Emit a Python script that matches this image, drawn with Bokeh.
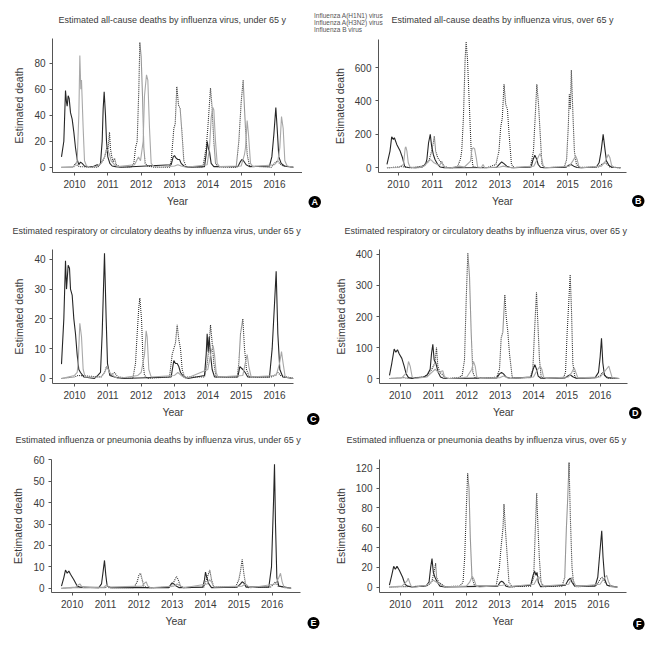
from bokeh.plotting import figure
from bokeh.models import Range1d, FixedTicker, Legend, LegendItem, Title, Label
from bokeh.layouts import row, column
from bokeh.embed import file_html
from bokeh.resources import INLINE

# ---------------- data (year, estimated deaths) ----------------
TICK_YEARS = [2010, 2011, 2012, 2013, 2014, 2015, 2016]
SERIES_NAMES = ["Influenza A(H1N1) virus", "Influenza A(H3N2) virus", "Influenza B virus"]

A_H1N1 = [(2009.61, 8), (2009.68, 20), (2009.73, 59), (2009.76, 50), (2009.78, 47), (2009.81, 55), (2009.84, 53),
          (2009.88, 42), (2009.93, 37), (2009.98, 27), (2010.03, 15), (2010.08, 6), (2010.13, 2), (2010.18, 4),
          (2010.23, 3), (2010.30, 1), (2010.38, 0.5), (2010.55, 0.5), (2010.68, 2), (2010.72, 1), (2010.78, 3),
          (2010.83, 20), (2010.86, 45), (2010.89, 58), (2010.93, 40), (2010.96, 20), (2011.0, 8), (2011.06, 3),
          (2011.13, 1), (2011.23, 0.5), (2011.4, 0), (2012.9, 2), (2012.96, 8), (2013.0, 9), (2013.05, 7),
          (2013.1, 6), (2013.15, 6), (2013.2, 3), (2013.28, 1), (2013.4, 0), (2013.9, 0.5), (2013.95, 10),
          (2013.98, 20), (2014.02, 14), (2014.05, 12), (2014.1, 3), (2014.18, 0.5), (2014.9, 0.5), (2014.97, 4),
          (2015.02, 6), (2015.07, 5), (2015.15, 2), (2015.25, 0.5), (2015.85, 1), (2015.92, 8), (2015.98, 25),
          (2016.04, 46), (2016.08, 30), (2016.13, 8), (2016.2, 3), (2016.3, 1), (2016.57, 0)]
A_H3N2 = [(2009.61, 0), (2009.95, 0), (2010.0, 2), (2010.03, 3), (2010.08, 1.5), (2010.15, 0.5), (2010.7, 0),
          (2010.75, 2), (2010.85, 5), (2010.92, 9), (2010.97, 15), (2011.0, 12), (2011.05, 27), (2011.08, 14),
          (2011.12, 8), (2011.16, 4), (2011.2, 7), (2011.25, 2), (2011.35, 0.5), (2011.7, 0), (2011.78, 3),
          (2011.83, 15), (2011.88, 20), (2011.93, 60), (2011.96, 96), (2012.0, 85), (2012.04, 55), (2012.08, 15),
          (2012.12, 3), (2012.2, 1), (2012.4, 0), (2012.85, 0), (2012.9, 5), (2012.95, 20), (2012.98, 30),
          (2013.02, 33), (2013.07, 62), (2013.12, 48), (2013.17, 45), (2013.22, 28), (2013.28, 5), (2013.35, 0.5),
          (2013.85, 0), (2013.95, 15), (2014.0, 30), (2014.08, 61), (2014.13, 45), (2014.18, 20), (2014.23, 3),
          (2014.3, 0.5), (2014.85, 0), (2014.93, 20), (2015.0, 50), (2015.06, 67), (2015.1, 45), (2015.13, 30),
          (2015.18, 10), (2015.25, 1), (2015.9, 0), (2016.0, 3), (2016.08, 5), (2016.15, 3), (2016.25, 1),
          (2016.57, 0)]
A_B = [(2009.61, 0), (2010.0, 0.5), (2010.08, 5), (2010.13, 40), (2010.16, 86), (2010.19, 60), (2010.21, 67),
       (2010.26, 30), (2010.3, 5), (2010.36, 1), (2010.5, 0), (2010.7, 1), (2010.8, 3), (2010.9, 8), (2010.96, 14),
       (2011.0, 13), (2011.05, 10), (2011.1, 5), (2011.2, 2), (2011.3, 0.5), (2011.8, 2), (2011.88, 6),
       (2011.92, 8), (2011.98, 5), (2012.06, 20), (2012.1, 55), (2012.16, 71), (2012.2, 67), (2012.25, 30),
       (2012.3, 3), (2012.38, 0.5), (2012.6, 0), (2013.0, 1), (2013.1, 2), (2013.2, 1), (2013.35, 0),
       (2013.98, 2), (2014.05, 15), (2014.1, 38), (2014.15, 46), (2014.18, 44), (2014.23, 20), (2014.28, 3),
       (2014.35, 0.5), (2015.0, 1), (2015.1, 10), (2015.13, 15), (2015.18, 36), (2015.22, 25), (2015.28, 3),
       (2015.35, 0.5), (2016.0, 2), (2016.1, 5), (2016.16, 15), (2016.21, 39), (2016.26, 30), (2016.31, 5),
       (2016.38, 1), (2016.57, 0)]

B_H1N1 = [(2009.66, 20), (2009.75, 100), (2009.80, 185), (2009.85, 170), (2009.88, 180), (2009.95, 140),
          (2010.05, 100), (2010.12, 60), (2010.18, 10), (2010.22, 5), (2010.3, 2), (2010.5, 0), (2010.7, 5),
          (2010.8, 20), (2010.84, 50), (2010.89, 150), (2010.94, 200), (2010.98, 130), (2011.03, 80),
          (2011.08, 50), (2011.16, 20), (2011.23, 5), (2011.35, 1), (2011.5, 0), (2012.9, 2), (2013.0, 25),
          (2013.05, 35), (2013.12, 25), (2013.2, 10), (2013.3, 2), (2013.4, 0), (2013.92, 5), (2013.98, 50),
          (2014.03, 75), (2014.08, 55), (2014.13, 20), (2014.2, 3), (2014.3, 0), (2014.95, 3), (2015.03, 15),
          (2015.1, 20), (2015.18, 10), (2015.28, 2), (2015.4, 0), (2015.85, 5), (2015.93, 30), (2015.99, 100),
          (2016.05, 200), (2016.11, 100), (2016.15, 40), (2016.22, 15), (2016.3, 3), (2016.57, 0)]
B_H3N2 = [(2009.66, 0), (2010.0, 5), (2010.1, 8), (2010.2, 3), (2010.35, 0), (2010.7, 10), (2010.8, 25),
          (2010.9, 40), (2010.98, 100), (2011.03, 150), (2011.06, 190), (2011.1, 100), (2011.16, 60),
          (2011.23, 40), (2011.28, 30), (2011.35, 10), (2011.45, 2), (2011.6, 0), (2011.75, 10), (2011.83, 50),
          (2011.87, 100), (2011.92, 300), (2011.97, 650), (2012.0, 755), (2012.04, 650), (2012.09, 400),
          (2012.15, 100), (2012.2, 10), (2012.3, 2), (2012.6, 0), (2012.88, 20), (2012.97, 100), (2013.02, 240),
          (2013.07, 300), (2013.12, 500), (2013.17, 380), (2013.22, 350), (2013.27, 200), (2013.34, 20),
          (2013.42, 2), (2013.9, 5), (2013.99, 100), (2014.04, 300), (2014.09, 500), (2014.14, 380),
          (2014.19, 200), (2014.24, 20), (2014.32, 2), (2014.9, 3), (2014.97, 50), (2015.02, 250),
          (2015.05, 440), (2015.08, 350), (2015.11, 585), (2015.16, 300), (2015.2, 100), (2015.26, 20),
          (2015.35, 2), (2015.9, 5), (2016.0, 20), (2016.08, 30), (2016.15, 25), (2016.25, 5), (2016.57, 0)]
B_B = [(2009.66, 0), (2010.0, 2), (2010.15, 20), (2010.2, 120), (2010.22, 125), (2010.25, 100), (2010.29, 30),
       (2010.34, 5), (2010.45, 1), (2010.6, 0), (2010.75, 10), (2010.85, 30), (2010.92, 50), (2010.98, 45),
       (2011.05, 30), (2011.15, 20), (2011.22, 15), (2011.28, 40), (2011.33, 10), (2011.4, 2), (2011.55, 0),
       (2011.8, 10), (2011.95, 5), (2012.13, 40), (2012.17, 110), (2012.21, 120), (2012.25, 115), (2012.3, 60),
       (2012.34, 5), (2012.45, 2), (2012.5, 20), (2012.55, 0), (2013.0, 5), (2013.1, 10), (2013.2, 5),
       (2013.35, 0), (2014.0, 10), (2014.1, 50), (2014.18, 85), (2014.23, 60), (2014.28, 10), (2014.35, 0),
       (2015.05, 10), (2015.15, 40), (2015.24, 70), (2015.28, 50), (2015.33, 10), (2015.4, 0), (2016.0, 10),
       (2016.12, 40), (2016.2, 80), (2016.25, 60), (2016.3, 15), (2016.38, 2), (2016.57, 0)]

C_H1N1 = [(2009.61, 4.8), (2009.68, 20), (2009.73, 39.5), (2009.76, 30), (2009.81, 38), (2009.85, 37),
          (2009.88, 30), (2009.93, 28), (2009.98, 20), (2010.03, 15), (2010.08, 8), (2010.13, 3), (2010.18, 2),
          (2010.28, 0.5), (2010.6, 0), (2010.7, 1), (2010.78, 2), (2010.83, 15), (2010.9, 42), (2010.95, 20),
          (2010.99, 5), (2011.06, 1), (2011.2, 0.5), (2011.4, 0), (2012.9, 0.5), (2012.95, 4), (2012.98, 6),
          (2013.03, 5), (2013.08, 5), (2013.13, 4), (2013.18, 2), (2013.28, 0.5), (2013.4, 0), (2013.9, 1),
          (2013.95, 8), (2013.98, 15), (2014.01, 9), (2014.04, 14), (2014.08, 8), (2014.13, 3), (2014.2, 0.5),
          (2014.9, 0.5), (2014.96, 4), (2015.05, 3), (2015.12, 2), (2015.2, 0.5), (2015.85, 0.5), (2015.93, 10),
          (2016.0, 25), (2016.05, 36), (2016.1, 15), (2016.16, 3), (2016.25, 0.5), (2016.57, 0)]
C_H3N2 = [(2009.61, 0), (2010.0, 0.5), (2010.1, 1), (2010.8, 0.5), (2010.9, 2), (2010.96, 4), (2011.02, 3),
          (2011.1, 1), (2011.2, 2), (2011.3, 0.5), (2011.75, 0), (2011.83, 5), (2011.88, 15), (2011.93, 24),
          (2011.96, 27), (2012.01, 20), (2012.06, 5), (2012.1, 1), (2012.2, 0), (2012.85, 0.5), (2012.93, 8),
          (2012.98, 10), (2013.03, 12), (2013.08, 18), (2013.13, 13), (2013.18, 10), (2013.23, 3), (2013.3, 0.5),
          (2013.9, 0.5), (2013.98, 5), (2014.03, 10), (2014.08, 18), (2014.13, 12), (2014.18, 5), (2014.25, 0.5),
          (2014.88, 0.5), (2014.93, 5), (2014.98, 15), (2015.05, 20), (2015.1, 10), (2015.16, 3), (2015.25, 0.5),
          (2015.9, 0.5), (2016.0, 1), (2016.1, 2), (2016.18, 1), (2016.57, 0)]
C_B = [(2009.61, 0), (2010.0, 1), (2010.08, 2), (2010.11, 5), (2010.16, 18.5), (2010.21, 14), (2010.26, 3),
       (2010.32, 0.5), (2010.8, 0.5), (2010.9, 2), (2010.98, 4), (2011.05, 2), (2011.15, 1), (2011.3, 0),
       (2011.9, 1), (2012.0, 2), (2012.1, 8), (2012.15, 16), (2012.18, 14), (2012.23, 3), (2012.3, 0.5),
       (2013.0, 1), (2013.1, 2), (2013.2, 1), (2013.35, 0), (2014.0, 3), (2014.1, 9), (2014.16, 11),
       (2014.2, 8), (2014.25, 2), (2014.3, 0.5), (2015.05, 1), (2015.12, 5), (2015.18, 8), (2015.23, 4),
       (2015.3, 0.5), (2016.05, 1), (2016.15, 5), (2016.21, 9), (2016.26, 5), (2016.32, 0.5), (2016.57, 0)]

D_H1N1 = [(2009.68, 10), (2009.75, 50), (2009.82, 95), (2009.87, 85), (2009.92, 93), (2009.97, 80),
          (2010.05, 65), (2010.12, 40), (2010.18, 15), (2010.25, 3), (2010.35, 0.5), (2010.7, 5), (2010.8, 10),
          (2010.9, 30), (2010.94, 80), (2010.98, 110), (2011.02, 60), (2011.07, 50), (2011.14, 20), (2011.21, 5),
          (2011.3, 1), (2011.5, 0), (2012.9, 2), (2012.98, 15), (2013.04, 20), (2013.1, 15), (2013.18, 5),
          (2013.3, 0.5), (2013.93, 5), (2013.99, 30), (2014.04, 45), (2014.09, 30), (2014.14, 8), (2014.22, 1),
          (2014.95, 2), (2015.03, 8), (2015.1, 12), (2015.18, 6), (2015.28, 1), (2015.85, 3), (2015.95, 20),
          (2016.0, 70), (2016.04, 130), (2016.08, 50), (2016.13, 10), (2016.2, 3), (2016.57, 0)]
D_H3N2 = [(2009.68, 0), (2010.0, 2), (2010.1, 3), (2010.2, 1), (2010.7, 5), (2010.85, 15), (2010.95, 30),
          (2011.04, 50), (2011.09, 100), (2011.13, 40), (2011.19, 20), (2011.25, 15), (2011.32, 5), (2011.45, 0.5),
          (2011.75, 3), (2011.86, 10), (2011.93, 60), (2011.98, 250), (2012.03, 405), (2012.08, 330),
          (2012.13, 150), (2012.18, 20), (2012.25, 2), (2012.5, 0), (2012.9, 5), (2012.98, 30), (2013.03, 130),
          (2013.08, 150), (2013.14, 270), (2013.18, 200), (2013.23, 150), (2013.28, 80), (2013.36, 5),
          (2013.45, 0.5), (2013.9, 3), (2013.98, 30), (2014.03, 150), (2014.09, 278), (2014.13, 180),
          (2014.18, 60), (2014.23, 5), (2014.3, 0.5), (2014.9, 3), (2014.96, 20), (2015.01, 150), (2015.06, 250),
          (2015.1, 335), (2015.14, 220), (2015.18, 50), (2015.24, 5), (2015.32, 0.5), (2015.9, 3), (2016.0, 10),
          (2016.08, 20), (2016.15, 10), (2016.25, 1), (2016.57, 0)]
D_B = [(2009.68, 0), (2010.05, 2), (2010.2, 20), (2010.25, 55), (2010.3, 40), (2010.36, 5), (2010.45, 0.5),
       (2010.8, 5), (2010.95, 20), (2011.05, 30), (2011.15, 20), (2011.28, 25), (2011.33, 5), (2011.45, 0),
       (2011.9, 3), (2012.0, 5), (2012.15, 30), (2012.2, 55), (2012.25, 40), (2012.3, 5), (2012.4, 0.5),
       (2013.0, 3), (2013.1, 8), (2013.2, 3), (2013.3, 0), (2014.0, 5), (2014.1, 25), (2014.2, 40),
       (2014.25, 30), (2014.3, 5), (2014.38, 0.5), (2015.05, 5), (2015.15, 20), (2015.22, 35), (2015.27, 20),
       (2015.33, 2), (2016.0, 5), (2016.15, 25), (2016.26, 40), (2016.3, 25), (2016.36, 3), (2016.57, 0)]

E_H1N1 = [(2009.68, 1), (2009.75, 5), (2009.8, 8.5), (2009.85, 7), (2009.9, 8), (2009.95, 6.5), (2010.05, 4),
          (2010.15, 1), (2010.25, 0.5), (2010.8, 0.3), (2010.88, 2), (2010.93, 8), (2010.97, 13), (2011.01, 6),
          (2011.05, 1), (2011.15, 0.3), (2012.9, 0.3), (2012.97, 2), (2013.0, 2.5), (2013.05, 2), (2013.12, 1),
          (2013.2, 0.3), (2013.92, 0.5), (2013.97, 4), (2014.0, 7.5), (2014.04, 5), (2014.1, 2), (2014.18, 0.3),
          (2014.95, 0.5), (2015.05, 2), (2015.1, 3), (2015.15, 2.5), (2015.22, 0.5), (2015.9, 0.5),
          (2015.98, 10), (2016.04, 40), (2016.07, 58), (2016.1, 30), (2016.14, 5), (2016.2, 1), (2016.57, 0)]
E_H3N2 = [(2009.68, 0), (2010.2, 0.3), (2011.0, 0.3), (2011.05, 1), (2011.1, 0.3), (2011.85, 0.3), (2011.95, 3),
          (2012.0, 6), (2012.05, 7), (2012.1, 4), (2012.15, 1), (2012.25, 0.2), (2012.95, 0.5), (2013.05, 3),
          (2013.13, 5.5), (2013.18, 4), (2013.25, 1), (2013.35, 0.2), (2013.95, 0.5), (2014.05, 5),
          (2014.13, 8.5), (2014.18, 4), (2014.25, 0.5), (2014.9, 0.5), (2015.0, 4), (2015.05, 8), (2015.1, 13.5),
          (2015.15, 7), (2015.2, 2), (2015.28, 0.3), (2015.95, 0.5), (2016.05, 2), (2016.1, 3), (2016.18, 1),
          (2016.57, 0)]
E_B = [(2009.68, 0), (2010.1, 0.5), (2010.18, 1.5), (2010.23, 2), (2010.28, 1), (2010.35, 0.2), (2010.95, 0.5),
       (2011.03, 1.5), (2011.1, 0.5), (2012.1, 1), (2012.18, 2.5), (2012.22, 3), (2012.27, 1), (2012.35, 0.2),
       (2013.05, 1), (2013.15, 2), (2013.25, 1), (2013.35, 0.2), (2014.05, 2), (2014.12, 4), (2014.18, 3),
       (2014.25, 0.5), (2015.1, 1), (2015.2, 2), (2015.28, 1), (2015.35, 0.2), (2016.1, 2), (2016.2, 5),
       (2016.25, 7), (2016.3, 3), (2016.36, 0.3), (2016.57, 0)]

F_H1N1 = [(2009.67, 2), (2009.74, 12), (2009.8, 21), (2009.85, 18), (2009.9, 21), (2009.97, 17), (2010.07, 10),
          (2010.14, 3), (2010.22, 1), (2010.35, 0.3), (2010.7, 1), (2010.8, 2), (2010.87, 5), (2010.92, 20),
          (2010.96, 29), (2011.0, 15), (2011.05, 10), (2011.12, 5), (2011.2, 1), (2011.35, 0.3), (2012.95, 1),
          (2013.02, 5), (2013.07, 6), (2013.12, 5), (2013.2, 1), (2013.3, 0.3), (2013.95, 2), (2014.02, 12),
          (2014.07, 16), (2014.11, 12), (2014.14, 15), (2014.18, 5), (2014.25, 0.5), (2015.0, 2), (2015.08, 7),
          (2015.15, 9), (2015.2, 5), (2015.28, 1), (2015.9, 1), (2015.98, 10), (2016.03, 30), (2016.1, 57),
          (2016.14, 30), (2016.19, 8), (2016.26, 2), (2016.57, 0)]
F_H3N2 = [(2009.67, 0), (2010.1, 0.5), (2010.8, 1), (2010.95, 5), (2011.02, 15), (2011.07, 24), (2011.1, 10),
          (2011.16, 5), (2011.25, 3), (2011.35, 0.5), (2011.8, 1), (2011.9, 5), (2011.95, 30), (2012.0, 80),
          (2012.04, 115), (2012.08, 100), (2012.12, 50), (2012.17, 10), (2012.25, 1), (2012.9, 1), (2013.0, 20),
          (2013.05, 40), (2013.11, 60), (2013.14, 84), (2013.18, 60), (2013.23, 35), (2013.29, 5), (2013.38, 0.5),
          (2013.95, 1), (2014.04, 10), (2014.08, 50), (2014.13, 95), (2014.17, 60), (2014.21, 30), (2014.26, 5),
          (2014.35, 0.5), (2014.9, 1), (2014.98, 10), (2015.03, 60), (2015.07, 90), (2015.11, 126), (2015.15, 70),
          (2015.2, 20), (2015.25, 3), (2015.35, 0.3), (2015.95, 2), (2016.05, 8), (2016.12, 10), (2016.2, 5),
          (2016.3, 1), (2016.57, 0)]
F_B = [(2009.67, 0), (2010.05, 1), (2010.2, 6), (2010.24, 9), (2010.28, 5), (2010.33, 1), (2010.45, 0.2),
       (2010.8, 2), (2010.92, 5), (2011.0, 7), (2011.1, 5), (2011.25, 2), (2011.35, 0.3), (2012.0, 1),
       (2012.1, 5), (2012.18, 11), (2012.23, 8), (2012.3, 1), (2012.4, 0.2), (2013.1, 2), (2013.2, 3),
       (2013.3, 0.5), (2014.05, 3), (2014.18, 11), (2014.24, 8), (2014.3, 1), (2015.1, 3), (2015.2, 10),
       (2015.25, 6), (2015.32, 0.5), (2016.05, 3), (2016.15, 8), (2016.25, 12), (2016.3, 6), (2016.38, 0.5),
       (2016.57, 0)]

TITLES = {
    "A": "Estimated all-cause deaths by influenza virus, under 65 y",
    "B": "Estimated all-cause deaths by influenza virus, over 65 y",
    "C": "Estimated respiratory or circulatory deaths by influenza virus, under 65 y",
    "D": "Estimated respiratory or circulatory deaths by influenza virus, over 65 y",
    "E": "Estimated influenza or pneumonia deaths by influenza virus, under 65 y",
    "F": "Estimated influenza or pneumonia deaths by influenza virus, over 65 y",
}
Y_TICKS = {
    "A": [0, 20, 40, 60, 80], "B": [0, 200, 400, 600], "C": [0, 10, 20, 30, 40],
    "D": [0, 100, 200, 300, 400], "E": [0, 10, 20, 30, 40, 50, 60], "F": [0, 20, 40, 60, 80, 100, 120],
}
SERIES = {
    "A": (A_H1N1, A_H3N2, A_B), "B": (B_H1N1, B_H3N2, B_B), "C": (C_H1N1, C_H3N2, C_B),
    "D": (D_H1N1, D_H3N2, D_B), "E": (E_H1N1, E_H3N2, E_B), "F": (F_H1N1, F_H3N2, F_B),
}

# ---------------- layout / style ----------------
FONT = "'Liberation Sans', Arial, sans-serif"
TXT = "#3a3a3a"
STYLES = [dict(line_color="#262626", line_width=1.1),
          dict(line_color="#303030", line_width=1.1, line_dash="1 1"),
          dict(line_color="#a8a8a8", line_width=1.1)]

# w, h, borders (top, right, bottom, left), x range, y range, title offset, spacer standoff
GEOM = {
    "A": dict(w=302, h=220, b=(38, 0, 48, 52), xr=(2009.34, 2016.84), yr=(-4, 99), toff=6, sp=2),
    "B": dict(w=353, h=181, b=(0, 29, 48, 76), xr=(2009.41, 2016.74), yr=(-28, 768), toff=None, sp=None),
    "C": dict(w=331, h=210, b=(29, 38, 47, 52), xr=(2009.34, 2016.57), yr=(-1.7, 43.3), toff=-40, sp=2),
    "D": dict(w=324, h=210, b=(29, 28, 47, 46), xr=(2009.38, 2016.82), yr=(-16, 416), toff=-35, sp=2),
    "E": dict(w=331, h=210, b=(29, 31, 48, 51), xr=(2009.38, 2016.85), yr=(-2, 60.2), toff=-36, sp=3),
    "F": dict(w=324, h=210, b=(29, 29, 48, 45), xr=(2009.37, 2016.85), yr=(-5.4, 129), toff=-33, sp=3),
}
# badge letter, align, offset, standoff (drawn as a title below the x axis)
BADGES = {
    "B": [("B", "right", -18, -29), ("A", "left", -70, -27)],
    "C": [("C", "right", -26, -15)], "D": [("D", "right", -14, -27)],
    "E": [("E", "right", -19, -25)], "F": [("F", "right", -18, -23)],
}


def base_figure(**kw):
    p = figure(output_backend="svg", toolbar_location=None, **kw)
    p.frame_align = False
    p.title_location = None
    p.outline_line_color = None
    p.background_fill_color = "white"
    p.border_fill_color = "white"
    return p


def make_panel(key):
    g = GEOM[key]
    top, right, bottom, left = g["b"]
    p = base_figure(width=g["w"], height=g["h"], x_range=Range1d(*g["xr"]), y_range=Range1d(*g["yr"]),
                    min_border_top=top, min_border_right=right, min_border_bottom=bottom,
                    min_border_left=left)
    p.xgrid.visible = False
    p.ygrid.visible = False

    p.xaxis.ticker = FixedTicker(ticks=TICK_YEARS)
    p.yaxis.ticker = FixedTicker(ticks=Y_TICKS[key])
    p.xaxis.axis_label = "Year"
    p.yaxis.axis_label = "Estimated death"
    for ax in (p.xaxis, p.yaxis):
        ax.axis_line_color = "#555555"
        ax.major_tick_line_color = "#555555"
        ax.major_tick_out = 3
        ax.major_tick_in = 0
        ax.minor_tick_line_color = None
        ax.major_label_text_font = FONT
        ax.major_label_text_font_size = "10px"
        ax.major_label_text_color = TXT
        ax.axis_label_text_font = FONT
        ax.axis_label_text_font_size = "10.5px"
        ax.axis_label_text_font_style = "normal"
        ax.axis_label_text_color = TXT
    p.xaxis.major_label_standoff = 4
    p.xaxis.axis_label_standoff = 4
    p.yaxis.major_label_standoff = 4
    p.yaxis.axis_label_standoff = 6

    for data, st in zip(SERIES[key], STYLES):
        p.line([d[0] for d in data], [d[1] for d in data], **st)
    return p


figs = {k: make_panel(k) for k in "ABCDEF"}

# titles (a blank spacer title keeps the real title away from the frame)
for k in "ACDEF":
    p = figs[k]
    p.add_layout(Title(text=" ", standoff=GEOM[k]["sp"], text_font=FONT, text_font_size="9px"), "above")
    p.add_layout(Title(text=TITLES[k], align="left", offset=GEOM[k]["toff"], standoff=0,
                       text_font=FONT, text_font_size="9px", text_font_style="normal",
                       text_color=TXT), "above")

# strip above panel B: legend (sits between panels A and B) and panel B's title
strip = base_figure(width=353, height=39, x_range=Range1d(0, 1), y_range=Range1d(0, 1),
                    x_axis_type=None, y_axis_type=None,
                    min_border_top=0, min_border_right=0, min_border_bottom=0, min_border_left=0)
strip.xgrid.visible = False
strip.ygrid.visible = False
keys = [strip.line(x=[], y=[], **st) for st in STYLES]
legend = Legend(items=[LegendItem(label=n, renderers=[r]) for n, r in zip(SERIES_NAMES, keys)],
                location=(2, 6), orientation="vertical",
                label_text_font=FONT, label_text_font_size="6.5px", label_text_color="#555555",
                glyph_width=7, glyph_height=5, label_height=5, label_standoff=3, spacing=-3,
                padding=0, margin=0, border_line_color=None, background_fill_alpha=0)
strip.add_layout(legend)
strip.add_layout(Label(x=200, y=20, x_units="screen", y_units="screen", text=TITLES["B"],
                       text_align="center", text_baseline="middle", text_font=FONT,
                       text_font_size="9px", text_color=TXT))

for k, lst in BADGES.items():
    for letter, align, off, so in lst:
        figs[k].add_layout(Title(text=letter, align=align, offset=off, standoff=so, vertical_align="top",
                                 text_color="white", text_font=FONT, text_font_style="bold",
                                 text_font_size="9px", background_fill_color="black",
                                 border_radius=6, padding=(3, 1)), "below")

layout = column(row(figs["A"], column(strip, figs["B"])),
                row(figs["C"], figs["D"]),
                row(figs["E"], figs["F"]))
open("out.html", "w").write(file_html(layout, INLINE))
